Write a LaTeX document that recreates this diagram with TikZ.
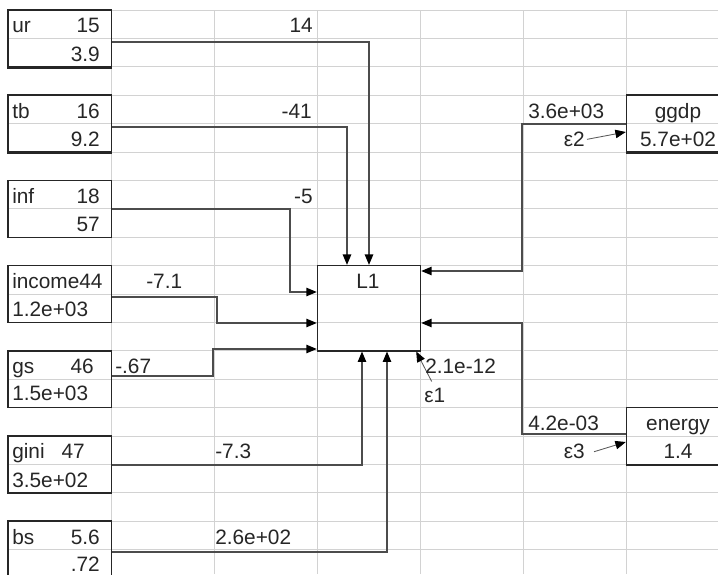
\documentclass[tikz,border=0pt]{standalone}
\usepackage{fontspec}
\setmainfont{Liberation Sans}
\usepackage{tikz}
\usetikzlibrary{arrows.meta}
\newcommand{\cellfont}{\fontsize{14.8pt}{17pt}\selectfont}

\begin{document}
\begin{tikzpicture}[
        x=0.025cm, y=-0.025cm,
        grid/.style={draw=gray!35, line width=0.6pt},
        var/.style={rectangle, draw=black!85, line width=1pt, minimum width=2.5875cm, minimum height=1.42cm, inner sep=0pt},
        txt/.style={inner sep=0pt, font=\cellfont, text=black!85},
        arrow/.style={-{Triangle[length=0.26cm, width=0.21cm, color=black]}, draw=black!70, line width=0.9pt},
        err/.style={-{Triangle[length=0.26cm, width=0.21cm, color=black]}, draw=black!65, line width=0.6pt}
    ]
        \clip (0,0) rectangle (718,574);
        % spreadsheet grid
        \foreach \k in {0,...,19} \draw[grid] (8,10+28.4*\k) -- (718,10+28.4*\k);
        \foreach \j in {0,...,5} \draw[grid] (111.5+103*\j,10) -- (111.5+103*\j,574);

        % observed variables
        \node[var] (ur)     at (59.75,38.4)  {};
        \node[var] (tb)     at (59.75,123.6) {};
        \node[var] (inf)    at (59.75,208.8) {};
        \node[var] (income) at (59.75,294)   {};
        \node[var] (gs)     at (59.75,379.2) {};
        \node[var] (gini)   at (59.75,464.4) {};
        \node[var] (bs)     at (59.75,549.6) {};
        \node[var, minimum width=2.575cm] (ggdp)   at (678,123.6) {};
        \node[var, minimum width=2.575cm] (energy) at (678,436)   {};
        % latent variable
        \node[var, minimum width=2.575cm, minimum height=2.13cm] (L1) at (369,308.2) {};
        \foreach \n in {ur,tb,ggdp,energy} \draw[line width=1.8pt, black!85] (\n.south west) -- (\n.south east);

        % box texts
        \node[txt, anchor=base west] (ur-name)  at (12,32.9)   {ur};
        \node[txt, anchor=base east] (ur-mean)  at (100,32.9)  {15};
        \node[txt, anchor=base east] (ur-var)   at (100,61.3)  {3.9};
        \node[txt, anchor=base west] (tb-name)  at (12,118.1)  {tb};
        \node[txt, anchor=base east] (tb-mean)  at (100,118.1) {16};
        \node[txt, anchor=base east] (tb-var)   at (100,146.5) {9.2};
        \node[txt, anchor=base west] (inf-name) at (12,203.3)  {inf};
        \node[txt, anchor=base east] (inf-mean) at (100,203.3) {18};
        \node[txt, anchor=base east] (inf-var)  at (100,231.7) {57};
        \node[txt, anchor=base west] (income-name) at (12,288.5) {income44};
        \node[txt, anchor=base west] (income-var)  at (12,316.9) {1.2e+03};
        \node[txt, anchor=base west] (gs-name)  at (12,373.7)  {gs};
        \node[txt, anchor=base east] (gs-mean)  at (94,373.7)  {46};
        \node[txt, anchor=base west] (gs-var)   at (12,400)    {1.5e+03};
        \node[txt, anchor=base west] (gini-name) at (12,458.9) {gini};
        \node[txt, anchor=base east] (gini-mean) at (85,458.9) {47};
        \node[txt, anchor=base west] (gini-var)  at (12,487.3) {3.5e+02};
        \node[txt, anchor=base west] (bs-name)  at (12,544.1)  {bs};
        \node[txt, anchor=base east] (bs-mean)  at (100,544.1) {5.6};
        \node[txt, anchor=base east] (bs-var)   at (100,571)   {.72};
        \node[txt, anchor=base] (L1-name)       at (368,288.5) {L1};
        \node[txt, anchor=base] (ggdp-name)     at (678,118.1) {ggdp};
        \node[txt, anchor=base] (ggdp-var)      at (678,146.5) {5.7e+02};
        \node[txt, anchor=base] (energy-name)   at (678,430.5) {energy};
        \node[txt, anchor=base] (energy-var)    at (678,458.9) {1.4};

        % error terms
        \node[txt, anchor=base west] (e1) at (424,402.1) {ε1};
        \node[txt, anchor=base east] (e2) at (585,146.5) {ε2};
        \node[txt, anchor=base east] (e3) at (585,458.9) {ε3};

        % paths
        \draw[arrow] (ur.east |- 0,42) -| (L1.north);
        \draw[arrow] (tb.east |- 0,127) -| ([shift={(-22,0)}]L1.north);
        \draw[arrow] (inf.east |- 0,209) -| (290,292) -- (L1.west |- 0,292);
        \draw[arrow] (income.east |- 0,297) -| (217,323) -- (L1.west |- 0,323);
        \draw[arrow] (gs.east |- 0,376) -| (213,349) -- (L1.west |- 0,349);
        \draw[arrow] (gini.east |- 0,465) -| ([shift={(-7,0)}]L1.south);
        \draw[arrow] (bs.east |- 0,552) -| ([shift={(18,0)}]L1.south);
        \draw[arrow] (ggdp.west |- 0,124) -| (522,271) -- (L1.east |- 0,271);
        \draw[arrow] (energy.west |- 0,434) -| (522,323) -- (L1.east |- 0,323);
        \draw[err] ([shift={(-3,-6)}]e1.north) -- ([shift={(-5,0)}]L1.south east);
        \draw[err] ([shift={(2,0)}]e2.east) -- (ggdp.west |- 0,132);
        \draw[err] ([shift={(9,0)}]e3.east) -- (energy.west |- 0,442);

        % path labels
        \node[txt, anchor=base east] (c-ur)     at (313,32.9)  {14};
        \node[txt, anchor=base east] (c-tb)     at (312,118.1) {-41};
        \node[txt, anchor=base east] (c-inf)    at (313,203.3) {-5};
        \node[txt, anchor=base west] (c-income) at (146,288.5) {-7.1};
        \node[txt, anchor=base west] (c-gs)     at (115,373.7) {-.67};
        \node[txt, anchor=base west] (c-gini)   at (215,458.9) {-7.3};
        \node[txt, anchor=base west] (c-bs)     at (215,544.1) {2.6e+02};
        \node[txt, anchor=base west] (c-ggdp)   at (528,118.1) {3.6e+03};
        \node[txt, anchor=base west] (c-energy) at (528,430.5) {4.2e-03};
        \node[txt, anchor=base west] (c-e1)     at (425,373.7) {2.1e-12};
\end{tikzpicture}
\end{document}
